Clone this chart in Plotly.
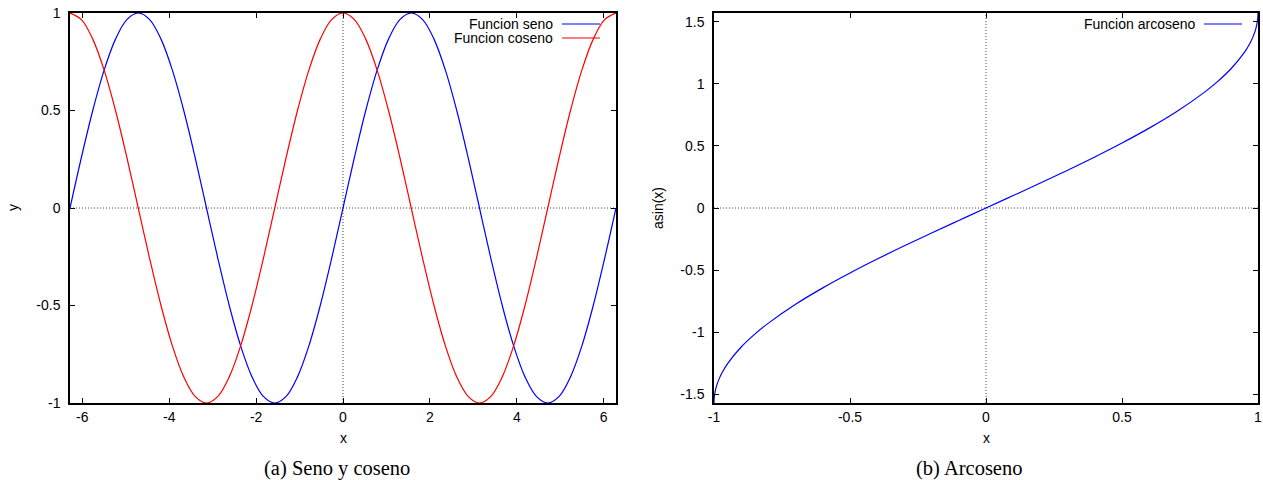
import plotly.graph_objects as go

# ---- data -------------------------------------------------------------
# sample points every pi/12 over [-2pi, 2pi]
x_trig = [-6.2832, -6.0214, -5.7596, -5.4978, -5.2360, -4.9742, -4.7124, -4.4506,
          -4.1888, -3.9270, -3.6652, -3.4034, -3.1416, -2.8798, -2.6180, -2.3562,
          -2.0944, -1.8326, -1.5708, -1.3090, -1.0472, -0.7854, -0.5236, -0.2618,
          0.0,
          0.2618, 0.5236, 0.7854, 1.0472, 1.3090, 1.5708, 1.8326, 2.0944,
          2.3562, 2.6180, 2.8798, 3.1416, 3.4034, 3.6652, 3.9270, 4.1888,
          4.4506, 4.7124, 4.9742, 5.2360, 5.4978, 5.7596, 6.0214, 6.2832]

y_seno = [0.0, 0.259, 0.5, 0.707, 0.866, 0.966, 1.0, 0.966, 0.866, 0.707, 0.5, 0.259,
          0.0, -0.259, -0.5, -0.707, -0.866, -0.966, -1.0, -0.966, -0.866, -0.707, -0.5, -0.259,
          0.0, 0.259, 0.5, 0.707, 0.866, 0.966, 1.0, 0.966, 0.866, 0.707, 0.5, 0.259,
          0.0, -0.259, -0.5, -0.707, -0.866, -0.966, -1.0, -0.966, -0.866, -0.707, -0.5, -0.259,
          0.0]

y_coseno = [1.0, 0.966, 0.866, 0.707, 0.5, 0.259, 0.0, -0.259, -0.5, -0.707, -0.866, -0.966,
            -1.0, -0.966, -0.866, -0.707, -0.5, -0.259, 0.0, 0.259, 0.5, 0.707, 0.866, 0.966,
            1.0, 0.966, 0.866, 0.707, 0.5, 0.259, 0.0, -0.259, -0.5, -0.707, -0.866, -0.966,
            -1.0, -0.966, -0.866, -0.707, -0.5, -0.259, 0.0, 0.259, 0.5, 0.707, 0.866, 0.966,
            1.0]

x_asin = [-1.0, -0.9999, -0.999, -0.998, -0.995, -0.99, -0.98, -0.97, -0.95, -0.9, -0.85,
          -0.8, -0.7, -0.6, -0.5, -0.4, -0.3, -0.2, -0.1, 0.0,
          0.1, 0.2, 0.3, 0.4, 0.5, 0.6, 0.7, 0.8, 0.85, 0.9, 0.95, 0.97, 0.98, 0.99,
          0.995, 0.998, 0.999, 0.9999, 1.0]
y_asin = [-1.5708, -1.5567, -1.5261, -1.5075, -1.4706, -1.4293, -1.3705, -1.3252, -1.2532,
          -1.1198, -1.0160, -0.9273, -0.7754, -0.6435, -0.5236, -0.4115, -0.3047, -0.2014,
          -0.1002, 0.0,
          0.1002, 0.2014, 0.3047, 0.4115, 0.5236, 0.6435, 0.7754, 0.9273, 1.0160, 1.1198,
          1.2532, 1.3252, 1.3705, 1.4293, 1.4706, 1.5075, 1.5261, 1.5567, 1.5708]

x1_ticks = [-6, -4, -2, 0, 2, 4, 6]
x1_labels = ["-6", "-4", "-2", "0", "2", "4", "6"]
y1_ticks = [-1, -0.5, 0, 0.5, 1]
y1_labels = ["-1", "-0.5", "0", "0.5", "1"]
x2_ticks = [-1, -0.5, 0, 0.5, 1]
x2_labels = ["-1", "-0.5", "0", "0.5", "1"]
y2_ticks = [-1.5, -1, -0.5, 0, 0.5, 1, 1.5]
y2_labels = ["-1.5", "-1", "-0.5", "0", "0.5", "1", "1.5"]

legend1 = ["Funcion seno", "Funcion coseno"]
legend2 = ["Funcion arcoseno"]
captions = ["(a) Seno y coseno", "(b) Arcoseno"]

BLUE = "#0000ff"
RED = "#ff0000"
SANS = "Liberation Sans, Arial, sans-serif"
SERIF = "Liberation Serif, DejaVu Serif, serif"

W, H = 1263, 480
dom1 = [70 / W, 616 / W]
dom2 = [714 / W, 1258 / W]
ydom = [(H - 403) / H, (H - 13) / H]

fig = go.Figure()
fig.add_trace(go.Scatter(x=x_trig, y=y_seno, mode="lines", line=dict(color=BLUE, width=1.2, shape="spline"),
                         xaxis="x", yaxis="y", showlegend=False))
fig.add_trace(go.Scatter(x=x_trig, y=y_coseno, mode="lines", line=dict(color=RED, width=1.2, shape="spline"),
                         xaxis="x", yaxis="y", showlegend=False))
fig.add_trace(go.Scatter(x=x_asin, y=y_asin, mode="lines", line=dict(color=BLUE, width=1.2, shape="spline"),
                         xaxis="x2", yaxis="y2", showlegend=False))

axis_common = dict(showgrid=False, zeroline=False, showline=True, linecolor="black", linewidth=1.5,
                   mirror="ticks", ticks="inside", ticklen=5, tickwidth=1, tickcolor="black",
                   automargin=False, tickfont=dict(family=SANS, size=14, color="black"))

fig.update_layout(
    width=W, height=H, margin=dict(l=0, r=0, t=0, b=0),
    paper_bgcolor="white", plot_bgcolor="white", showlegend=False,
    xaxis=dict(domain=dom1, range=[-6.2832, 6.2832], tickvals=x1_ticks, ticktext=x1_labels,
               anchor="y", ticklabelstandoff=0, **axis_common),
    yaxis=dict(domain=ydom, range=[-1, 1], tickvals=y1_ticks, ticktext=y1_labels,
               anchor="x", ticklabelstandoff=5, **axis_common),
    xaxis2=dict(domain=dom2, range=[-1, 1], tickvals=x2_ticks, ticktext=x2_labels,
                anchor="y2", ticklabelstandoff=0, **axis_common),
    yaxis2=dict(domain=ydom, range=[-1.5708, 1.5708], tickvals=y2_ticks, ticktext=y2_labels,
                anchor="x2", ticklabelstandoff=5, **axis_common),
)

# dotted zero axes
shapes = []
for xr, yr in (("x", "y"), ("x2", "y2")):
    shapes.append(dict(type="line", xref=xr, yref=yr + " domain", x0=0, x1=0, y0=0, y1=1,
                       line=dict(color="#444", width=1, dash="1px,2px"), layer="below"))
    shapes.append(dict(type="line", xref=xr + " domain", yref=yr, x0=0, x1=1, y0=0, y1=0,
                       line=dict(color="#444", width=1, dash="1px,2px"), layer="below"))

annotations = []

# gnuplot-style keys: right-aligned text followed by a line sample
def add_key(labels, colors, text_right_px, line_x0_px, line_x1_px, first_y_px):
    for i, (lab, col) in enumerate(zip(labels, colors)):
        ypx = first_y_px + 14 * i
        annotations.append(dict(text=lab, xref="paper", yref="paper", x=text_right_px / W, y=1 - ypx / H,
                                xanchor="right", yanchor="middle", showarrow=False,
                                font=dict(family=SANS, size=14, color="black")))
        shapes.append(dict(type="line", xref="paper", yref="paper",
                           x0=line_x0_px / W, x1=line_x1_px / W, y0=1 - ypx / H, y1=1 - ypx / H,
                           line=dict(color=col, width=1.2)))

add_key(legend1, [BLUE, RED], 555, 562, 600, 24)
add_key(legend2, [BLUE], 1198, 1204, 1242, 24)

# axis titles
for txt, x, y, ang in (("x", 343, 438, 0), ("y", 13, 208, -90),
                       ("x", 986, 438, 0), ("asin(x)", 658, 208, -90)):
    annotations.append(dict(text=txt, xref="paper", yref="paper", x=x / W, y=1 - y / H,
                            xanchor="center", yanchor="middle", showarrow=False, textangle=ang,
                            font=dict(family=SANS, size=14, color="black")))

# sub-figure captions
for txt, x in zip(captions, (337, 969)):
    annotations.append(dict(text=txt, xref="paper", yref="paper", x=x / W, y=1 - 468 / H,
                            xanchor="center", yanchor="middle", showarrow=False,
                            font=dict(family=SERIF, size=20.5, color="black")))

fig.update_layout(shapes=shapes, annotations=annotations)
fig.write_html("out.html")
